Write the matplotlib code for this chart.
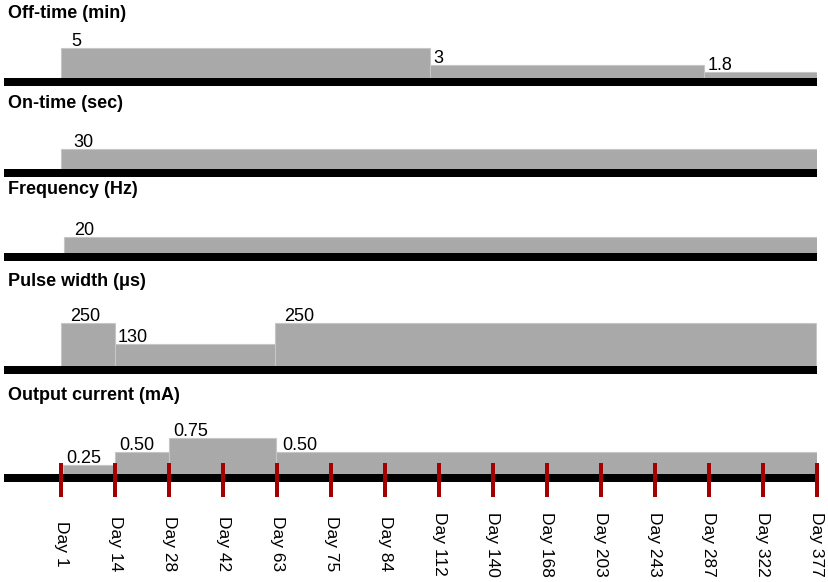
import numpy as np
import matplotlib
matplotlib.use("Agg")
import matplotlib.pyplot as plt
from matplotlib.patches import Rectangle

# ---------------- data ----------------
day_labels = ["Day 1", "Day 14", "Day 28", "Day 42", "Day 63", "Day 75", "Day 84",
              "Day 112", "Day 140", "Day 168", "Day 203", "Day 243", "Day 287",
              "Day 322", "Day 377"]

titles = ["Off-time (min)", "On-time (sec)", "Frequency (Hz)",
          "Pulse width (\u03bcs)", "Output current (mA)"]

offtime_starts = [0, 6.83, 11.91]
offtime_values = [5, 3, 1.8]
offtime_labels = ["5", "3", "1.8"]

ontime_starts = [0]
ontime_values = [30]
ontime_labels = ["30"]

freq_starts = [0.04]
freq_values = [20]
freq_labels = ["20"]

pulse_starts = [0, 1, 3.96]
pulse_values = [250, 130, 250]
pulse_labels = ["250", "130", "250"]

current_starts = [0.02, 1, 2, 3.98]
current_values = [0.25, 0.50, 0.75, 0.50]
current_labels = ["0.25", "0.50", "0.75", "0.50"]

series_end = 14

# ---------------- style / layout ----------------
W, H = 829, 582
FONT = "Liberation Sans"
GRAY = "#a9a9a9"
EDGE = "#c6c6c6"
RED = "#a50000"

x_left_px, x_right_px = 4, 817
x0_px, x14_px = 61.5, 816.5
step_px = (x14_px - x0_px) / 14.0
band_px = 8
ax_h_px = 50

# per panel: band top (px from top), title centre y, exponent, px per unit^p
layout = [
    dict(band_top=77.5, title_y=13, p=1.72, k=1.852, up_dx=10, down_dx=4),
    dict(band_top=169, title_y=103, p=1.0, k=0.657, up_dx=12, down_dx=4),
    dict(band_top=253, title_y=190, p=1.0, k=0.815, up_dx=10, down_dx=4),
    dict(band_top=366, title_y=281, p=1.0, k=0.172, up_dx=9, down_dx=2),
    dict(band_top=474, title_y=396, p=1.25, k=52.0, up_dx=4, down_dx=6),
]

data = [
    (offtime_starts, offtime_values, offtime_labels),
    (ontime_starts, ontime_values, ontime_labels),
    (freq_starts, freq_values, freq_labels),
    (pulse_starts, pulse_values, pulse_labels),
    (current_starts, current_values, current_labels),
]

plt.rcParams["font.family"] = [FONT, "DejaVu Sans"]

fig = plt.figure(figsize=(W / 100, H / 100), dpi=100)
px2pt = 72.0 / 100.0

xlim = ((x_left_px - x0_px) / step_px, (x_right_px - x0_px) / step_px)

axes = []
for i, (lay, (starts, vals, labs)) in enumerate(zip(layout, data)):
    left = x_left_px / W
    width = (x_right_px - x_left_px) / W
    bottom = 1 - lay["band_top"] / H
    ax = fig.add_axes([left, bottom, width, ax_h_px / H])
    p = lay["p"]

    def fwd(y, p=p):
        y = np.asarray(y, dtype=float)
        return np.sign(y) * np.abs(y) ** p

    def inv(y, p=p):
        y = np.asarray(y, dtype=float)
        return np.sign(y) * np.abs(y) ** (1.0 / p)

    if p != 1.0:
        ax.set_yscale("function", functions=(fwd, inv))
    ytop = float(inv(ax_h_px / lay["k"]))
    ax.set_ylim(0, ytop)
    ax.set_xlim(*xlim)

    ends = list(starts[1:]) + [series_end]
    widths = [e - s for s, e in zip(starts, ends)]
    ax.bar(starts, vals, width=widths, align="edge", bottom=0,
           color=GRAY, edgecolor=EDGE, linewidth=0.8, zorder=2)

    for j, (s, v, lab) in enumerate(zip(starts, vals, labs)):
        down = j > 0 and vals[j - 1] > v
        dx = lay["down_dx"] if down else lay["up_dx"]
        ax.annotate(lab, xy=(s, v), xytext=(dx * px2pt, 2 * px2pt),
                    textcoords="offset points", ha="left", va="baseline",
                    fontsize=13, color="black", zorder=4, annotation_clip=False)

    # black baseline band below the bars
    ax.add_patch(Rectangle((0, -band_px / ax_h_px), 1, band_px / ax_h_px,
                           transform=ax.transAxes, facecolor="black",
                           edgecolor="none", clip_on=False, zorder=3))

    for sp in ax.spines.values():
        sp.set_visible(False)
    ax.set_yticks([])
    ax.patch.set_alpha(0)

    fig.text(8 / W, 1 - lay["title_y"] / H, titles[i], fontsize=13,
             fontweight="bold", ha="left", va="center")
    axes.append(ax)

# bottom panel: red day ticks and rotated day labels
ax = axes[-1]
idx = np.arange(len(day_labels))
tick_top_px, tick_bot_px = 462.5, 497
band_top = layout[-1]["band_top"]
ymin = (band_top - tick_bot_px) / ax_h_px
ymax = (band_top - tick_top_px) / ax_h_px
ax.vlines(idx, ymin, ymax, transform=ax.get_xaxis_transform(),
          colors=RED, linewidth=4 * px2pt, zorder=5, clip_on=False)

ax.set_xticks(idx)
ax.set_xticklabels(day_labels, rotation=-90, fontsize=12.5)
ax.tick_params(axis="x", length=0, pad=(544 - band_top) * px2pt)
for lbl in ax.get_xticklabels():
    lbl.set_va("center")
    lbl.set_ha("center")
for a in axes[:-1]:
    a.set_xticks([])

fig.savefig("out.png", dpi=100)
